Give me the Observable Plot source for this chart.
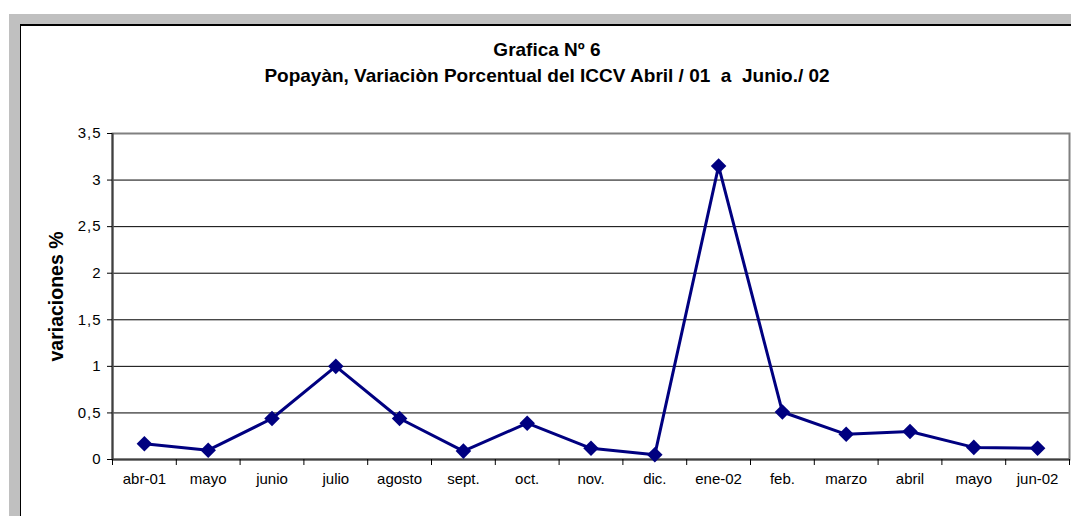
<!DOCTYPE html>
<html>
<head>
<meta charset="utf-8">
<script src="https://cdn.jsdelivr.net/npm/d3@7"></script>
<script src="https://cdn.jsdelivr.net/npm/@observablehq/plot@0.6"></script>
<style>
  html, body { margin: 0; padding: 0; background: #ffffff; }
  body { width: 1071px; height: 516px; position: relative; overflow: hidden; font-family: "Liberation Sans", Arial, sans-serif; }
  #outer { position: absolute; left: 9px; top: 14px; width: 1100px; height: 600px; background: #c0c0c0; }
  #inner { position: absolute; left: 20px; top: 24px; width: 1100px; height: 600px; background: #fff; border-left: 1px solid #000; border-top: 2px solid #000; box-sizing: border-box; }
  #chart { position: absolute; left: 0; top: 0; }
  .title { position: absolute; left: 247px; width: 600px; text-align: center; font-weight: bold; font-size: 19px; color: #000; white-space: pre; }
  .ytick text { letter-spacing: 1px; }
</style>
</head>
<body>
<div id="outer"></div>
<div id="inner"></div>
<div id="chart"></div>
<div class="title" style="top:39px;">Grafica Nº 6</div>
<div class="title" style="top:65px;">Popayàn, Variaciòn Porcentual del ICCV Abril / 01  a  Junio./ 02</div>
<script>
const categories = ["abr-01", "mayo", "junio", "julio", "agosto", "sept.", "oct.", "nov.", "dic.", "ene-02", "feb.", "marzo", "abril", "mayo", "jun-02"];
const values = [0.17, 0.10, 0.44, 1.00, 0.44, 0.09, 0.39, 0.12, 0.05, 3.15, 0.51, 0.27, 0.30, 0.13, 0.12];
const yTicks = [0, 0.5, 1, 1.5, 2, 2.5, 3, 3.5];
const gridLines = [0.5, 1, 1.5, 2, 2.5, 3];
const yLabel = "variaciones %";

const rows = categories.map((c, i) => ({idx: i + 0.5, label: c, value: values[i]}));
const bounds = d3.range(categories.length + 1);

const chart = Plot.plot({
  width: 1071,
  height: 516,
  marginLeft: 112,
  marginRight: 2,
  marginTop: 133,
  marginBottom: 57,
  style: {background: "transparent", fontFamily: "'Liberation Sans', Arial, sans-serif", fontSize: "15px", color: "#000"},
  x: {domain: [0, categories.length]},
  y: {domain: [0, 3.5]},
  marks: [
    Plot.ruleY(gridLines, {stroke: "#000", strokeWidth: 1}),
    Plot.frame({stroke: "#808080", strokeWidth: 2}),
    Plot.ruleX([0], {stroke: "#404040", strokeWidth: 2}),
    Plot.ruleY([0], {stroke: "#404040", strokeWidth: 2}),
    Plot.axisY({ticks: yTicks, tickSize: 5, tickPadding: 6, tickFormat: d => String(d).replace(".", ","), label: null, fontSize: 15, stroke: "#000", className: "ytick"}),
    Plot.axisX({ticks: bounds, tickSize: 6, tickFormat: () => "", label: null, stroke: "#000"}),
    Plot.text(rows, {x: "idx", text: "label", frameAnchor: "bottom", dy: 24, fontSize: 15, fill: "#000"}),
    Plot.text([yLabel], {frameAnchor: "left", textAnchor: "middle", rotate: -90, dx: -56, fontWeight: "bold", fontSize: 19.5, fill: "#000"}),
    Plot.line(rows, {x: "idx", y: "value", stroke: "#000080", strokeWidth: 3}),
    Plot.dot(rows, {x: "idx", y: "value", symbol: "diamond2", r: 7, fill: "#000080", stroke: "none"})
  ]
});
document.getElementById("chart").appendChild(chart);
</script>
</body>
</html>
